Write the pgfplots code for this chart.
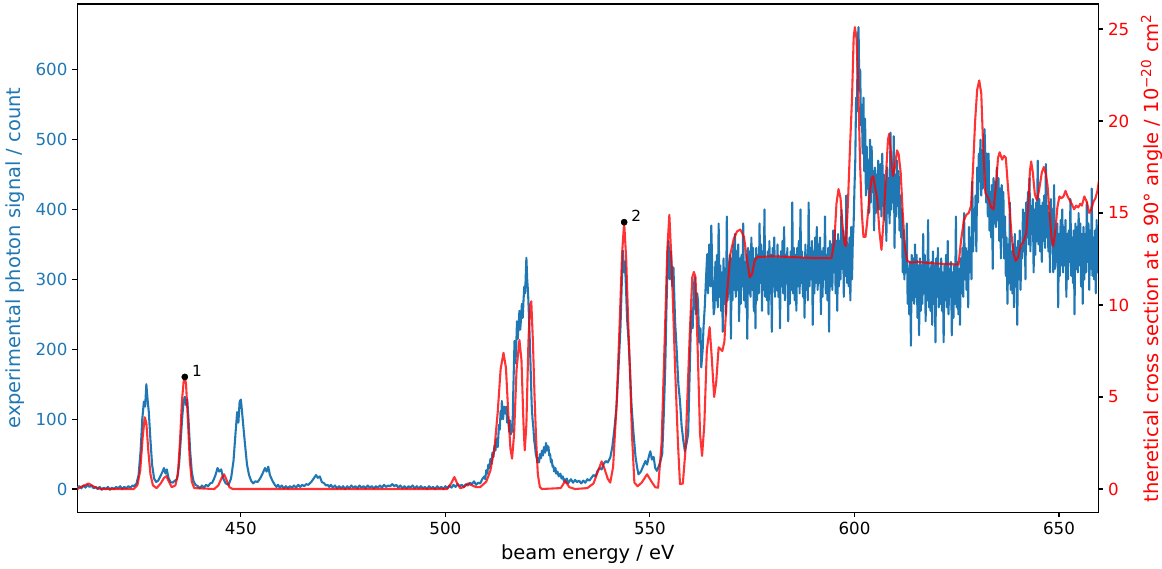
\documentclass[border=0pt]{standalone}
\usepackage{fontspec}
\setmainfont{DejaVu Sans}
\usepackage{pgfplots}
\pgfplotsset{compat=1.18}
\definecolor{mblue}{HTML}{1F77B4}
\begin{document}
\fontsize{10pt}{12pt}\selectfont
\begin{tikzpicture}
\pgfplotsset{every axis/.append style={
  scale only axis, width=735.1pt, height=365.8pt,
  xmin=410, xmax=659.6,
  tick align=outside, major tick length=3.5pt,
  every tick/.style={black, line width=0.8pt},
  axis line style={black, line width=0.8pt},
  /pgf/number format/assume math mode=true,
  ticklabel style={font=\fontsize{12pt}{14pt}\selectfont},
  label style={font=\fontsize{14pt}{16pt}\selectfont},
  minor tick num=0,
}}
\begin{axis}[name=main,
  ymin=-33.05, ymax=694.05,
  xtick={450,500,550,600,650}, ytick={0,100,200,300,400,500,600},
  xtick pos=left, ytick pos=left,
  yticklabel style={text=mblue},
  xlabel={beam energy / eV},
  xlabel style={at={(axis description cs:0.5,-0.0821)}, anchor=center},
  ylabel={experimental photon signal / count},
  ylabel style={text=mblue, at={(axis description cs:-0.0604,0.5)}, anchor=center},
]
\addplot[mblue, line width=1.5pt, line join=round] coordinates {
(410.0,2) (410.5,4) (411.0,1) (411.5,5) (412.0,2) (412.5,6) (413.0,3) (413.5,5) (414.0,1) (414.5,3) (415.0,0) (415.5,3) (416.0,-1) (416.5,2) (417.0,0) (417.5,3) (418.0,-1) (418.5,2) (419.0,0) (419.5,3) (420.0,1) (420.5,4) (421.0,0) (421.5,3) (422.0,1) (422.5,4) (423.0,2) (423.5,5)
(423.9,4) (424.5,8) (425.0,20) (425.5,55) (425.9,100) (426.3,125) (426.6,118) (426.9,150) (427.2,128) (427.5,110) (427.9,70) (428.3,35) (428.8,15) (429.3,10) (429.8,12) (430.3,18) (430.8,24) (431.2,30) (431.6,22) (431.9,28) (432.3,16) (432.8,10) (433.3,9) (433.9,12)
(434.4,14) (434.9,35) (435.3,70) (435.7,105) (436.0,125) (436.3,132) (436.6,120) (436.9,128) (437.2,100) (437.6,55) (438.0,25) (438.4,12) (438.9,6) (439.5,4)
(440.0,1) (440.5,5) (441.0,2) (441.5,6) (442.0,4) (442.5,8) (443.0,9) (443.4,14) (443.8,20) (444.3,30) (444.7,25) (445.2,28) (445.7,15) (446.3,8) (447,6) (447.6,15) (448.2,40) (448.7,80) (449.1,110) (449.4,95) (449.7,125) (450.0,128) (450.3,110) (450.6,90) (451,65) (451.5,35) (452,20) (452.5,12) (453,8) (453.5,11)
(454.1,10) (454.7,15) (455.3,22) (455.9,30) (456.3,25) (456.7,32) (457.1,20) (457.7,12) (458.3,6) (458.7,3) (459.1,6) (459.5,2) (460.0,5) (460.5,1) (461.0,4) (461.5,1) (462.0,4) (462.5,2) (463.0,5) (463.5,2) (464.0,6) (464.5,3) (465.0,6) (465.5,4) (466.0,7) (466.5,6)
(467.2,10) (467.8,15) (468.4,20) (468.8,16) (469.3,18) (469.8,10) (470.4,8) (470.8,5)
(471.2,6) (471.6,3) (472.0,6) (472.5,2) (473.0,5) (473.5,1) (474.0,4) (474.5,1) (475.0,4) (475.5,0) (476.0,4) (476.5,1) (477.0,5) (477.5,2) (478.0,4) (478.5,1) (479.0,5) (479.5,2) (480.0,4) (480.5,1) (481.0,5) (481.5,2) (482.0,4) (482.5,1) (483.0,4) (483.5,2) (484.0,5) (484.5,2) (485.0,6) (485.5,3) (486.0,5) (486.5,4) (487.0,7) (487.5,4) (488.0,6) (488.5,2) (489.0,5) (489.5,1) (490.0,4) (490.5,1) (491.0,4) (491.5,2) (492.0,5) (492.5,1) (493.0,4) (493.5,1) (494.0,4) (494.5,1) (495.0,3) (495.5,0) (496.0,4) (496.5,1) (497.0,3) (497.5,0) (498.0,4) (498.5,1) (499.0,3) (499.5,0) (500.0,4) (500.5,1) (501.0,5) (501.5,2) (502.0,6) (502.5,3) (503.0,7) (503.5,4) (504.0,6) (504.5,3) (505.0,7) (505.5,5) (506.0,9) (506.5,7) (507.0,11) (507.5,6) (508.0,9) (508.5,8) (509.0,14)
(509.5,18) (509.75,14) (510.0,27) (510.25,22) (510.5,35) (510.75,30) (511.0,43) (511.25,36) (511.5,52) (511.75,46) (512.0,62) (512.25,55) (512.5,72) (512.8,60) (513.1,92) (513.3,85) (513.5,112) (513.7,100) (513.8,126) (514.1,100) (514.35,118) (514.6,108) (514.9,118) (515.1,95) (515.3,104) (515.6,82) (515.8,98) (516.0,78) (516.2,90) (516.4,82) (516.6,140) (516.9,212) (517.1,180) (517.3,200) (517.5,240) (517.7,215) (517.9,235) (518.1,255) (518.3,228) (518.5,245) (518.7,265) (518.9,245) (519.1,270) (519.3,290) (519.5,280) (519.7,315) (519.8,331) (520.0,300) (520.2,282) (520.35,260) (520.5,236) (520.8,180) (521.1,120) (521.3,100) (521.5,88) (521.7,70) (521.9,62) (522.1,50) (522.3,45) (522.5,38) (522.7,44) (522.9,38) (523.1,50) (523.35,44) (523.6,55) (523.85,48) (524.1,60) (524.35,52) (524.6,66) (524.8,55) (524.9,62) (525.2,60) (525.4,48) (525.6,50) (525.8,38) (526.0,42) (526.2,32) (526.4,33) (526.6,25) (526.9,30) (527.1,22) (527.4,25) (527.7,18) (528.1,22) (528.4,15) (528.7,18) (529.0,11) (529.2,14) (529.5,9) (529.7,15) (530.0,8)
(530.2,10) (530.7,14) (531.2,9) (531.7,13) (532.2,10) (532.7,12) (533.2,8) (533.7,12) (534.2,9) (534.7,14) (535.2,12) (535.7,16) (536.2,20) (536.7,18) (537.2,26) (537.7,30) (538.2,28) (538.7,36) (539.2,40) (539.7,38)
(540.3,45) (540.8,60) (541.3,85) (541.8,115) (542.3,170) (542.8,231) (543.1,290) (543.4,341) (543.7,310) (543.9,325) (544.2,280) (544.4,245) (544.8,210) (545.1,174) (545.5,120) (546.0,79) (546.5,45) (546.9,30) (547.2,21) (547.8,25) (548.3,32) (548.9,40) (549.3,35) (549.8,48) (550.1,54) (550.5,42) (550.9,46) (551.3,30) (551.7,26) (552.1,32) (552.5,38)
(553.0,50) (553.35,100) (553.75,174) (554.05,260) (554.35,330) (554.55,355) (554.85,300) (555.15,340) (555.45,290) (555.75,317) (556.15,240) (556.55,198) (556.95,150) (557.35,126) (557.75,90) (558.15,70) (558.55,54) (558.95,65) (559.35,79) (559.65,150) (559.95,220) (560.15,255) (560.45,230) (560.75,290) (560.95,303) (561.25,250) (561.55,280) (561.75,269) (562.05,210) (562.35,230) (562.55,174)
(562.9,200) (563.1,231) (563.4,260) (563.7,300) (564.0,336) (564.2,280) (564.5,350) (564.8,290) (565.0,377) (565.3,300) (565.6,250) (565.8,260)
(566.0,325) (566.2,270) (566.4,335) (566.6,260) (566.8,380) (567.0,275) (567.2,320) (567.4,255) (567.6,310) (567.8,225) (568.0,330) (568.2,265) (568.4,315) (568.6,250) (568.8,390) (569.0,270) (569.2,325) (569.4,280) (569.6,335) (569.8,215) (570.0,330) (570.2,270) (570.4,350) (570.6,285) (570.8,365)
(571.0,275) (571.2,340) (571.4,285) (571.6,350) (571.8,240) (572.0,330) (572.2,265) (572.4,335) (572.6,290) (572.8,380) (573.0,270) (573.2,325) (573.4,260) (573.6,335) (573.8,215) (574.0,345) (574.2,280) (574.4,340) (574.6,275) (574.8,360) (575.0,285) (575.2,345) (575.4,255) (575.6,330) (575.8,230)
(576.0,345) (576.2,270) (576.4,335) (576.6,280) (576.8,380) (577.0,295) (577.2,350) (577.4,255) (577.6,340) (577.8,285) (578.0,400) (578.2,275) (578.4,330) (578.6,270) (578.8,340) (579.0,250) (579.2,355) (579.4,280) (579.6,335) (579.8,225) (580.0,345) (580.2,290) (580.4,360) (580.6,275) (580.8,330)
(581.0,285) (581.2,350) (581.4,275) (581.6,330) (581.8,230) (582.0,340) (582.2,290) (582.4,355) (582.6,280) (582.8,375) (583.0,270) (583.2,335) (583.4,295) (583.6,345) (583.8,240) (584.0,330) (584.2,265) (584.4,340) (584.6,285) (584.8,410) (585.0,280) (585.2,345) (585.4,270) (585.6,335) (585.8,255)
(586.0,345) (586.2,290) (586.4,355) (586.6,280) (586.8,400) (587.0,295) (587.2,340) (587.4,275) (587.6,330) (587.8,245) (588.0,350) (588.2,285) (588.4,335) (588.6,270) (588.8,410) (589.0,290) (589.2,345) (589.4,300) (589.6,355) (589.8,235) (590.0,340) (590.2,280) (590.4,360) (590.6,295) (590.8,375)
(591.0,285) (591.2,350) (591.4,295) (591.6,360) (591.8,250) (592.0,340) (592.2,275) (592.4,345) (592.6,300) (592.8,390) (593.0,280) (593.2,335) (593.4,270) (593.6,345) (593.8,225) (594.0,355) (594.2,290) (594.4,350) (594.6,285) (594.8,370) (595.0,310) (595.2,370) (595.4,280) (595.6,355) (595.8,255)
(596.0,365) (596.2,290) (596.4,355) (596.6,300) (596.8,400) (597.0,315) (597.2,370) (597.4,275) (597.6,360) (597.8,305) (598.0,420) (598.2,295) (598.4,350) (598.6,290) (598.8,360) (599.0,270) (599.2,375) (599.4,300) (599.6,355)
(599.8,380) (600.0,430) (600.2,470) (600.4,560) (600.6,540) (600.8,640) (601.0,661) (601.2,570) (601.4,600) (601.6,520) (601.8,550)
(602.0,480) (602.2,560) (602.4,455) (602.6,530) (602.8,420) (603.0,490) (603.2,430) (603.4,470) (603.6,395) (603.8,500) (604.0,410) (604.2,490) (604.4,425) (604.6,455) (604.8,370) (605.0,460) (605.2,395) (605.4,450) (605.6,400) (605.8,470)
(606.0,455) (606.2,400) (606.4,465) (606.6,390) (606.8,480) (607.0,405) (607.2,450) (607.4,385) (607.6,440) (607.8,355) (608.0,460) (608.2,395) (608.4,445) (608.6,380) (608.8,510) (609.0,400) (609.2,455) (609.4,410) (609.6,505) (609.8,345) (610.0,450) (610.2,390) (610.4,470) (610.6,405) (610.8,455)
(611.0,370) (611.2,420) (611.4,360) (611.6,400) (611.8,310) (612.0,370) (612.2,300) (612.4,350) (612.6,310) (612.8,380) (613.0,265) (613.2,315) (613.4,250) (613.6,325) (613.8,205) (614.0,335) (614.2,270) (614.4,330) (614.6,265) (614.8,350) (615.0,275) (615.2,335) (615.4,245) (615.6,320) (615.8,220)
(616.0,330) (616.2,255) (616.4,320) (616.6,265) (616.8,365) (617.0,280) (617.2,335) (617.4,240) (617.6,325) (617.8,270) (618.0,385) (618.2,260) (618.4,315) (618.6,255) (618.8,325) (619.0,235) (619.2,340) (619.4,265) (619.6,320) (619.8,210) (620.0,330) (620.2,275) (620.4,345) (620.6,260) (620.8,315)
(621.0,265) (621.2,330) (621.4,255) (621.6,310) (621.8,210) (622.0,320) (622.2,270) (622.4,335) (622.6,260) (622.8,355) (623.0,250) (623.2,315) (623.4,275) (623.6,325) (623.8,220) (624.0,310) (624.2,245) (624.4,320) (624.6,265) (624.8,390) (625.0,260) (625.2,325) (625.4,250) (625.6,315) (625.8,235)
(626.0,330) (626.2,280) (626.4,345) (626.6,275) (626.8,395) (627.0,300) (627.2,345) (627.4,285) (627.6,340) (627.8,260) (628.0,375) (628.2,310) (628.4,360) (628.6,300) (628.8,440) (629.0,340) (629.2,400) (629.4,370) (629.6,420) (629.8,340) (630.0,460) (630.2,410) (630.4,480) (630.6,440) (630.8,500)
(631.0,420) (631.2,485) (631.4,430) (631.6,495) (631.8,515) (632.0,475) (632.2,410) (632.4,480) (632.6,390) (632.8,480) (633.0,370) (633.2,425) (633.4,360) (633.6,435) (633.8,315) (634.0,445) (634.2,380) (634.4,440) (634.6,375) (634.8,460) (635.0,385) (635.2,445) (635.4,355) (635.6,430) (635.8,330)
(636.0,435) (636.2,360) (636.4,425) (636.6,330) (636.8,390) (637.0,305) (637.2,360) (637.4,265) (637.6,350) (637.8,295) (638.0,410) (638.2,285) (638.4,340) (638.6,280) (638.8,350) (639.0,260) (639.2,365) (639.4,290) (639.6,345) (639.8,235) (640.0,355) (640.2,300) (640.4,370) (640.6,285) (640.8,345)
(641.0,330) (641.2,400) (641.4,340) (641.6,395) (641.8,300) (642.0,410) (642.2,360) (642.4,425) (642.6,350) (642.8,445) (643.0,340) (643.2,405) (643.4,365) (643.6,415) (643.8,310) (644.0,400) (644.2,335) (644.4,410) (644.6,355) (644.8,470) (645.0,350) (645.2,415) (645.4,340) (645.6,405) (645.8,325)
(646.0,410) (646.2,355) (646.4,420) (646.6,345) (646.8,465) (647.0,360) (647.2,405) (647.4,340) (647.6,395) (647.8,310) (648.0,415) (648.2,350) (648.4,400) (648.6,310) (648.8,435) (649.0,315) (649.2,370) (649.4,325) (649.6,380) (649.8,260) (650.0,365) (650.2,305) (650.4,385) (650.6,320) (650.8,400)
(651.0,310) (651.2,375) (651.4,320) (651.6,385) (651.8,275) (652.0,365) (652.2,300) (652.4,370) (652.6,325) (652.8,415) (653.0,305) (653.2,360) (653.4,295) (653.6,370) (653.8,250) (654.0,380) (654.2,315) (654.4,375) (654.6,310) (654.8,395) (655.0,320) (655.2,380) (655.4,290) (655.6,365) (655.8,265)
(656.0,375) (656.2,300) (656.4,365) (656.6,310) (656.8,410) (657.0,325) (657.2,380) (657.4,285) (657.6,370) (657.8,315) (658.0,430) (658.2,305) (658.4,360) (658.6,300) (658.8,370) (659.0,280) (659.2,385) (659.4,310) (659.6,365)
};
\end{axis}
\begin{axis}[
  ymin=-1.255, ymax=26.355,
  axis x line=none, axis y line*=right,
  ytick={0,5,10,15,20,25},
  yticklabel style={text=red},
  ylabel={theretical cross section at a 90° angle / 10\textsuperscript{−20} cm\textsuperscript{2}},
  ylabel style={text=red, at={(axis description cs:1.0524,0.5)}, anchor=center},
]
\addplot[red, opacity=0.8, line width=1.5pt, line join=round] coordinates {
(410,0) (411.3,0.15) (412.8,0.3) (414.3,0.1) (415.8,0) (423.8,0)
(424.7,0.2) (425.4,1.0) (426.0,2.8) (426.5,3.9) (426.9,3.6) (427.4,2.0) (427.9,0.8) (428.5,0.2) (429.4,0.05) (430.4,0.3) (431.2,0.6) (431.8,0.7) (432.4,0.4) (433.1,0.1) (433.6,0.15)
(434.0,0.2) (434.6,0.8) (435.1,2.5) (435.6,4.8) (436.0,5.8) (436.3,6.1) (436.6,5.7) (437.0,4.0) (437.5,1.6) (438.0,0.4) (438.6,0.05)
(443.5,0) (444.5,0.2) (445.3,0.6) (445.9,0.8) (446.5,0.5) (447.2,0.1) (448,0)
(500.4,0) (501.4,0.3) (502.2,0.65) (502.9,0.3) (503.6,0.05) (504.5,0.1) (505.5,0.3) (506.5,0.2) (507.5,0.1) (508.5,0.1)
(510.0,0.4) (511.0,1.0) (512.0,2.2) (512.8,4.2) (513.5,6.5) (514.2,7.4)
(514.8,6.6) (515.4,4.0) (515.9,2.2) (516.3,1.65) (516.8,3.0) (517.4,6.5) (518.1,8.1) (518.6,7.0) (519.1,3.5) (519.4,2.1) (519.8,3.5) (520.3,8.0) (520.7,10.0) (521.0,10.2) (521.4,8.0) (521.8,5.0) (522.2,2.6) (522.6,0.8) (523.1,0.1) (523.6,0)
(528.2,0.05) (529.3,0.44) (530.3,0.1) (531.7,0) (534.7,0.05) (536.2,0.3) (537.2,0.9) (538.2,1.5) (538.9,1.1) (539.7,0.55)
(540.3,0.35) (541.0,1.2) (541.9,4.8) (542.6,9.0) (543.2,12.8) (543.7,14.5) (544.2,12.5) (544.7,9.0) (545.1,6.6) (545.6,3.0) (546.2,0.35) (547.0,0.15) (548.0,0.35) (549.3,0.8) (550.4,0.4) (551.3,0.1) (552.0,0.07)
(552.85,2.5) (553.65,8.4) (554.25,13.0) (554.75,14.9) (555.35,12.0) (556.15,6.6) (556.85,2.5) (557.35,0.27) (558.05,0.3) (558.65,2.0) (559.25,5.5) (559.75,8.5) (560.35,11.5) (560.75,11.8) (561.15,11.5) (561.75,7.0) (562.25,3.0) (562.75,1.8)
(563.3,3.5) (563.9,7.5) (564.6,8.8) (565.1,7.2) (565.7,5.0) (566.2,5.8) (566.8,7.7)
(567.7,7.5) (568.2,8.0) (568.8,10.5) (569.7,12.8) (570.5,13.6) (571.3,14.0) (572.1,14.1) (573.0,13.7) (573.7,12.5) (574.4,11.5) (575.0,11.7) (575.6,12.4) (576.2,12.6) (580,12.65) (585,12.6)
(590.1,12.55) (594.4,12.55)
(595.1,13.5) (595.6,15.5) (596.1,16.3) (596.6,15.8) (597.1,14.3) (597.6,13.3) (597.9,13.2) (598.4,15.5) (598.9,18.5) (599.4,21.2) (599.8,24.5) (600.1,25.1) (600.5,24.5) (600.9,22.0) (601.4,17.5) (601.8,15.0) (602.2,13.7) (602.7,13.7) (603.1,14.5) (603.7,16.0) (604.2,16.9) (604.6,17.0)
(605.2,16.2) (605.6,15.7) (606.1,14.0) (606.6,13.0) (607.1,14.5) (607.7,17.0) (608.2,19.0) (608.5,19.3) (608.9,18.3) (609.4,17.0) (609.9,17.5) (610.4,18.4) (610.8,18.2) (611.3,17.2) (611.8,15.0) (612.3,13.2) (612.9,12.4) (613.8,12.3) (615.3,12.35) (617.3,12.3)
(620.35,12.25) (625.45,12.2) (626.05,13.5) (626.75,14.6) (627.35,14.9) (627.95,15.0)
(628.5,15.4) (629.0,17.5) (629.5,20.0) (630.0,21.7) (630.5,22.2) (631.0,21.5) (631.4,19.0) (632.0,16.1) (632.5,15.9) (632.9,15.7) (633.4,15.3) (634.0,15.2) (634.6,16.5) (635.1,18.0) (635.5,18.3)
(636.1,17.9) (636.6,18.1) (637.0,18.0) (637.5,16.5) (637.9,15.3) (638.4,13.8) (638.9,12.8) (639.4,12.4) (640.0,12.6) (640.6,13.2) (641.4,13.5) (642.0,13.9) (642.5,15.5) (642.9,17.3) (643.2,17.8) (643.6,17.2) (644.1,16.0) (644.6,15.7) (645.1,16.2)
(645.8,17.2) (646.3,17.5) (646.8,17.1) (647.2,16.5) (647.7,15.0) (648.2,13.6) (648.6,13.2) (649.1,14.0) (649.6,15.3) (650.1,15.9) (650.6,15.8) (651.1,15.9) (651.6,16.2) (652.1,15.9) (652.6,15.7) (653.1,15.5) (653.7,15.2) (654.2,15.4) (654.7,15.3) (655.2,15.5) (655.6,15.4) (656.2,15.9) (656.8,15.6) (657.4,15.0) (657.9,15.2) (658.4,15.6) (658.9,15.8) (659.4,16.2) (659.8,16.8)
};
\addplot[only marks, mark=*, mark size=2.2pt, black,
  nodes near coords, point meta=explicit symbolic,
  every node near coord/.style={anchor=west, inner sep=0pt, xshift=5pt, yshift=4.3pt, text=black, font=\fontsize{11pt}{13pt}\selectfont}]
  coordinates {(436.3,6.09)[1] (543.7,14.5)[2]};
\end{axis}
\pgfresetboundingbox
\path[use as bounding box] ([xshift=-55.6pt,yshift=-40.3pt]main.south west) rectangle ([xshift=45.9pt,yshift=2.9pt]main.north east);
\end{tikzpicture}
\end{document}
